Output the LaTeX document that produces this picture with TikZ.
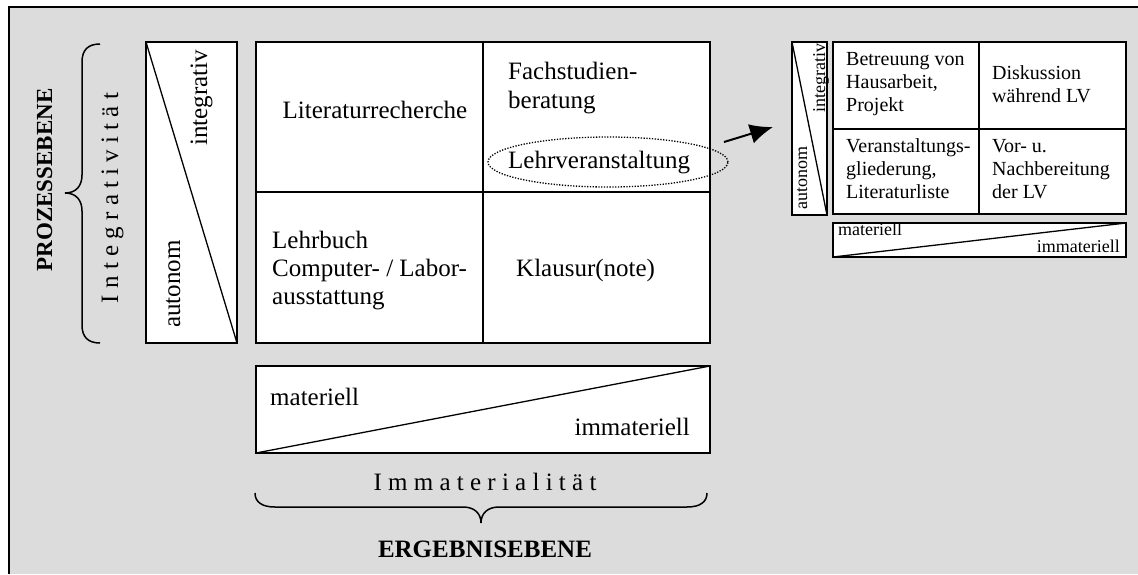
\documentclass[tikz,border=0pt]{standalone}
\usepackage{fontspec}
\setmainfont{Liberation Serif}
\usetikzlibrary{arrows.meta,shapes.geometric}
\definecolor{bggrey}{RGB}{220,220,220}
\begin{document}
\begin{tikzpicture}[x=1pt,y=-1pt,
  box/.style={draw, line width=1.7pt, fill=white},
  divider/.style={line width=1.7pt},
  diag/.style={line width=1.3pt},
  big/.style={font=\fontsize{25}{28}\selectfont, inner sep=0pt},
  bigbold/.style={font=\fontsize{25}{28}\selectfont\bfseries, inner sep=0pt},
  small/.style={font=\fontsize{20}{23}\selectfont, inner sep=0pt},
  tiny/.style={font=\fontsize{18}{21}\selectfont, inner sep=0pt},
  bracestyle/.style={line width=1.5pt},
]
\useasboundingbox (0,0) rectangle (1138,574);
\fill[white] (0,0) rectangle (1138,574);
\fill[bggrey] (9,7.3) rectangle (1138,574);
\draw[line width=2pt] (9,574) -- (9,7.3) -- (1138,7.3);

% ---- left axis box
\draw[box] (146,42) rectangle (237,343);
\draw[diag] (146,42) -- (237,343);
\node[big, rotate=90, anchor=base] (integ) at (207,98) {integrativ};
\node[big, rotate=90, anchor=base] (auton) at (180,284) {autonom};

% ---- main grid
\draw[box] (256,42) rectangle (710,343);
\draw[divider] (483,42) -- (483,343);
\draw[divider] (256,192) -- (710,192);
\node[big, anchor=base] (litrech) at (375,118) {Literaturrecherche};
\node[big, anchor=base west] (fach1) at (508,79) {Fachstudien-};
\node[big, anchor=base west] (fach2) at (508,108) {beratung};
\node[ellipse, draw, line width=1.3pt, dash pattern=on 1.3pt off 1.5pt,
      minimum width=240pt, minimum height=50pt, inner sep=0pt] (lvell) at (608,162) {};
\node[big, anchor=base west] (lv) at (508,168) {Lehrveranstaltung};
\node[big, anchor=base west] (lb1) at (272,248) {Lehrbuch};
\node[big, anchor=base west] (lb2) at (272,276) {Computer- / Labor-};
\node[big, anchor=base west] (lb3) at (272,304) {ausstattung};
\node[big, anchor=base west] (klaus) at (516,276) {Klausur(note)};

% ---- bottom axis box
\draw[box] (256,366) rectangle (710,453);
\draw[diag] (256,453) -- (710,366);
\node[big, anchor=base west] (mat) at (270,405) {materiell};
\node[big, anchor=base east] (immat) at (690,435) {immateriell};

% ---- axis labels and braces
\node[big, anchor=base] (immlab) at (485,490) {I m m a t e r i a l i t ä t};
\draw[bracestyle] (255,493) .. controls (255,502) and (262,507) .. (275,507) -- (463,507)
  .. controls (474,507) and (481,513) .. (481,523)
  .. controls (481,513) and (488,507) .. (499,507) -- (687,507)
  .. controls (700,507) and (707,502) .. (707,493);
\node[bigbold, anchor=base] (ergeb) at (485,557) {ERGEBNISEBENE};

\node[big, rotate=90, anchor=base] (intlab) at (118,198) {I n t e g r a t i v i t ä t};
\draw[bracestyle] (100,44) .. controls (88,44) and (82,50) .. (82,62) -- (82,175)
  .. controls (82,186) and (76,193) .. (65,193)
  .. controls (76,193) and (82,200) .. (82,211) -- (82,325)
  .. controls (82,337) and (88,343) .. (100,343);
\node[font=\fontsize{23}{26}\selectfont\bfseries, inner sep=0pt, rotate=90, anchor=base] (proz) at (52,180) {PROZESSEBENE};

% ---- arrow
\coordinate (arrS) at (724,142);
\coordinate (arrE) at (773,127);
\draw[line width=2pt, -{Latex[length=23pt,width=20pt]}] (arrS) -- (arrE);

% ---- small diagram
\draw[box] (792,42) rectangle (827,215);
\draw[diag] (792,42) -- (827,215);
\node[tiny, rotate=90, anchor=base] (sinteg) at (825,78) {integrativ};
\node[tiny, rotate=90, anchor=base] (sauton) at (807,178) {autonom};

\draw[box] (833,42) rectangle (1126,214);
\draw[divider] (979,42) -- (979,214);
\draw[divider] (833,129) -- (1126,129);
\node[small, anchor=base west] (b1) at (846,65) {Betreuung von};
\node[small, anchor=base west] (b2) at (846,88) {Hausarbeit,};
\node[small, anchor=base west] (b3) at (846,111) {Projekt};
\node[small, anchor=base west] (d1) at (992,79) {Diskussion};
\node[small, anchor=base west] (d2) at (992,102) {während LV};
\node[small, anchor=base west] (v1) at (846,152) {Veranstaltungs-};
\node[small, anchor=base west] (v2) at (846,175) {gliederung,};
\node[small, anchor=base west] (v3) at (846,198) {Literaturliste};
\node[small, anchor=base west] (n1) at (992,152) {Vor- u.};
\node[small, anchor=base west] (n2) at (992,175) {Nachbereitung};
\node[small, anchor=base west] (n3) at (992,198) {der LV};

\draw[box] (833,223) rectangle (1126,257);
\draw[diag] (833,257) -- (1126,223);
\node[tiny, anchor=base west] (smat) at (838,235) {materiell};
\node[tiny, anchor=base east] (simmat) at (1120,252) {immateriell};
\end{tikzpicture}
\end{document}
